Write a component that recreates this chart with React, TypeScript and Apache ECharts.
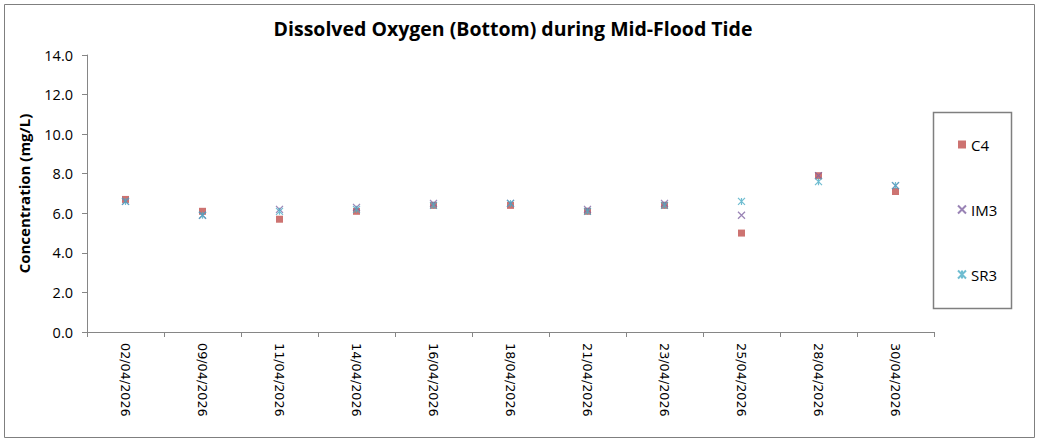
import React, { useEffect, useRef } from "react";
import * as echarts from "echarts";

const categories = ["02/04/2026", "09/04/2026", "11/04/2026", "14/04/2026", "16/04/2026", "18/04/2026", "21/04/2026", "23/04/2026", "25/04/2026", "28/04/2026", "30/04/2026"];
const c4 = [6.7, 6.1, 5.7, 6.1, 6.4, 6.4, 6.1, 6.4, 5.0, 7.9, 7.1];
const im3 = [6.6, 5.9, 6.2, 6.3, 6.5, 6.5, 6.2, 6.5, 5.9, 7.9, 7.4];
const sr3 = [6.6, 5.9, 6.1, 6.2, 6.4, 6.5, 6.1, 6.4, 6.6, 7.6, 7.4];
const seriesNames = ["C4", "IM3", "SR3"];

const X_PATH = "path://M0,0L10,10M10,0L0,10";
const STAR_PATH = "path://M0,0L10,10M10,0L0,10M5,0L5,10";

export default function App() {
  const ref = useRef<HTMLDivElement>(null);
  useEffect(() => {
    if (!ref.current) return;
    const chart = echarts.init(ref.current, null, { renderer: "svg" });
    chart.setOption({
      animation: false,
      backgroundColor: "#ffffff",
      title: {
        text: "Dissolved Oxygen (Bottom) during Mid-Flood Tide",
        left: 508,
        textAlign: "center",
        top: 13,
        textStyle: { fontFamily: "Open Sans", fontWeight: "bold", fontSize: 19.5, color: "#000" },
      },
      graphic: [
        {
          type: "rect",
          shape: { x: 4.5, y: 4.5, width: 1030, height: 433 },
          style: { fill: "none", stroke: "#7f7f7f", lineWidth: 1 },
          silent: true,
          z: -1,
        },
        {
          type: "rect",
          shape: { x: 933.5, y: 112.5, width: 78, height: 196 },
          style: { fill: "#fff", stroke: "#7f7f7f", lineWidth: 1.5 },
          silent: true,
          z: 0,
        },
      ],
      legend: {
        orient: "vertical",
        left: 952,
        top: 132,
        itemGap: 50,
        itemWidth: 8,
        itemHeight: 8,
        z: 5,
        textStyle: { fontFamily: "Open Sans", fontSize: 15, color: "#000" },
        data: seriesNames,
      },
      grid: { left: 87, right: 104, top: 55, bottom: 107, containLabel: false },
      xAxis: {
        type: "category",
        data: categories,
        boundaryGap: true,
        axisLine: { lineStyle: { color: "#868686", width: 1 } },
        axisTick: { show: true, alignWithLabel: false, length: 5, lineStyle: { color: "#868686" } },
        axisLabel: {
          rotate: -90,
          margin: 11,
          fontFamily: "DejaVu Sans",
          fontSize: 12.8,
          color: "#000",
          interval: 0,
        },
        splitLine: { show: false },
      },
      yAxis: {
        type: "value",
        min: 0,
        max: 14,
        interval: 2,
        name: "Concentration (mg/L)",
        nameLocation: "middle",
        nameGap: 56,
        nameRotate: 90,
        nameTextStyle: { fontFamily: "Open Sans", fontWeight: "bold", fontSize: 15, color: "#000" },
        axisLine: { show: true, lineStyle: { color: "#868686", width: 1 } },
        axisTick: { show: true, length: 5, lineStyle: { color: "#868686" } },
        axisLabel: {
          formatter: (v: number) => v.toFixed(1),
          fontFamily: "Open Sans",
          fontSize: 14.5,
          color: "#000",
          margin: 14,
        },
        splitLine: { show: false },
      },
      series: [
        {
          name: "C4",
          type: "scatter",
          data: c4,
          symbol: "rect",
          symbolSize: 7,
          itemStyle: { color: "#C0504D" },
          z: 2,
        },
        {
          name: "IM3",
          type: "scatter",
          data: im3,
          symbol: X_PATH,
          symbolSize: 7,
          itemStyle: { color: "rgba(0,0,0,0)", borderColor: "#8064A2", borderWidth: 1.2 },
          z: 3,
        },
        {
          name: "SR3",
          type: "scatter",
          data: sr3,
          symbol: STAR_PATH,
          symbolSize: 7,
          itemStyle: { color: "rgba(0,0,0,0)", borderColor: "#4BACC6", borderWidth: 1.2 },
          z: 4,
        },
      ],
    });
    return () => chart.dispose();
  }, []);
  return (
    <div
      ref={ref}
      style={{ position: "absolute", left: 0, top: 0, width: 1038, height: 439 }}
    />
  );
}
